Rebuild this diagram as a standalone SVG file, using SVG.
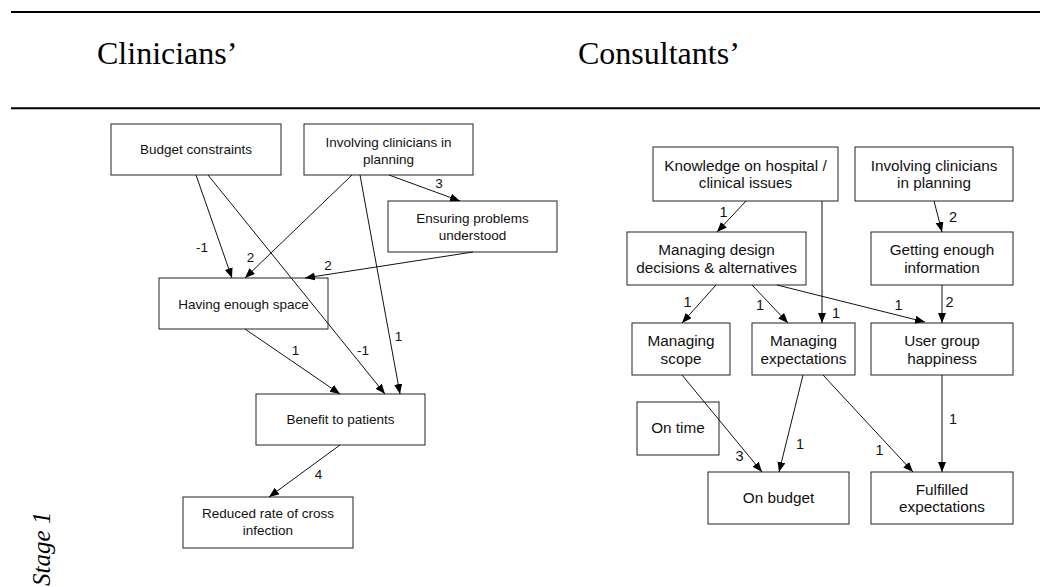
<svg xmlns="http://www.w3.org/2000/svg" width="1040" height="587" viewBox="0 0 1040 587">
<style>
.title{font-family:"Liberation Serif","Times New Roman",serif;font-size:32px;fill:#000}
.stage{font-family:"Liberation Serif","DejaVu Serif","Times New Roman",serif;font-size:25px;font-style:italic;fill:#000}
.box{fill:none;stroke:#222;stroke-width:1}
.tl{font-family:"Liberation Sans",Arial,sans-serif;font-size:13.5px;fill:#111;text-anchor:middle}
.tr{font-family:"Liberation Sans",Arial,sans-serif;font-size:15.3px;fill:#111;text-anchor:middle}
.ll{font-family:"Liberation Sans",Arial,sans-serif;font-size:13.5px;fill:#111;text-anchor:middle}
.lr{font-family:"Liberation Sans",Arial,sans-serif;font-size:14.5px;fill:#111;text-anchor:middle}
.edge{stroke:#111;stroke-width:1;fill:none;marker-end:url(#ah)}
.rule{stroke:#000;stroke-width:2}
</style>
<defs>
<marker id="ah" markerUnits="userSpaceOnUse" markerWidth="11" markerHeight="9" refX="10" refY="4" orient="auto">
<path d="M0,0 L10,4 L0,8 z" fill="#000"/>
</marker>
</defs>
<rect width="1040" height="587" fill="#fff"/>
<line class="rule" x1="11" y1="12" x2="1040" y2="12"/>
<line class="rule" x1="11" y1="108.3" x2="1040" y2="108.3"/>
<text class="title" x="97" y="64">Clinicians’</text>
<text class="title" x="578" y="64">Consultants’</text>
<text class="stage" transform="translate(50,586) rotate(-90)">Stage 1</text>

<g id="budget-constraints"><rect class="box" x="111" y="124" width="170" height="51"/><text class="tl" x="196" y="154.3">Budget constraints</text></g>
<g id="involving-left"><rect class="box" x="304" y="124" width="169" height="51"/><text class="tl" x="388.5" y="146.5">Involving clinicians in</text><text class="tl" x="388.5" y="164">planning</text></g>
<g id="ensuring"><rect class="box" x="388" y="201" width="169" height="51"/><text class="tl" x="472.5" y="222.8">Ensuring problems</text><text class="tl" x="472.5" y="240">understood</text></g>
<g id="having-space"><rect class="box" x="159" y="278" width="169" height="51"/><text class="tl" x="243.5" y="308.5">Having enough space</text></g>
<g id="benefit"><rect class="box" x="256" y="394" width="169" height="51"/><text class="tl" x="340.5" y="424">Benefit to patients</text></g>
<g id="reduced"><rect class="box" x="183" y="497" width="170" height="51"/><text class="tl" x="268" y="517.8">Reduced rate of cross</text><text class="tl" x="268" y="535">infection</text></g>

<g id="knowledge"><rect class="box" x="653" y="147" width="185" height="54"/><text class="tr" x="745.5" y="170.5">Knowledge on hospital /</text><text class="tr" x="745.5" y="188.2">clinical issues</text></g>
<g id="involving-right"><rect class="box" x="855" y="147" width="158" height="54"/><text class="tr" x="934" y="170.5">Involving clinicians</text><text class="tr" x="934" y="188.2">in planning</text></g>
<g id="managing-design"><rect class="box" x="627" y="232" width="179" height="53"/><text class="tr" x="716.5" y="255">Managing design</text><text class="tr" x="716.5" y="272.7">decisions &amp; alternatives</text></g>
<g id="getting-info"><rect class="box" x="871" y="232" width="142" height="53"/><text class="tr" x="942" y="255">Getting enough</text><text class="tr" x="942" y="272.7">information</text></g>
<g id="managing-scope"><rect class="box" x="632" y="323" width="98" height="52"/><text class="tr" x="681" y="346.2">Managing</text><text class="tr" x="681" y="363.9">scope</text></g>
<g id="managing-expectations"><rect class="box" x="752" y="323" width="103" height="52"/><text class="tr" x="803.5" y="346.2">Managing</text><text class="tr" x="803.5" y="363.9">expectations</text></g>
<g id="user-group"><rect class="box" x="871" y="323" width="142" height="52"/><text class="tr" x="942" y="346.2">User group</text><text class="tr" x="942" y="363.9">happiness</text></g>
<g id="on-time"><rect class="box" x="637" y="402" width="82" height="53"/><text class="tr" x="678" y="433.2">On time</text></g>
<g id="on-budget"><rect class="box" x="708" y="472" width="141" height="52"/><text class="tr" x="778.5" y="503.2">On budget</text></g>
<g id="fulfilled"><rect class="box" x="871" y="472" width="142" height="52"/><text class="tr" x="942" y="494.5">Fulfilled</text><text class="tr" x="942" y="512">expectations</text></g>

<g id="connectors">
<line class="edge" x1="196" y1="175" x2="232" y2="278"/>
<line class="edge" x1="208" y1="175" x2="385" y2="394"/>
<line class="edge" x1="352" y1="175" x2="245" y2="278"/>
<line class="edge" x1="360" y1="175" x2="400" y2="394"/>
<line class="edge" x1="389" y1="175" x2="460" y2="201"/>
<line class="edge" x1="473" y1="252" x2="305" y2="278"/>
<line class="edge" x1="245" y1="329" x2="340" y2="394"/>
<line class="edge" x1="340" y1="445" x2="269" y2="497"/>
<text class="ll" x="202" y="252">-1</text>
<text class="ll" x="250.5" y="262">2</text>
<text class="ll" x="328" y="270">2</text>
<text class="ll" x="439" y="188">3</text>
<text class="ll" x="295.5" y="355">1</text>
<text class="ll" x="363" y="355">-1</text>
<text class="ll" x="398.5" y="341">1</text>
<text class="ll" x="318.5" y="479">4</text>

<line class="edge" x1="746" y1="201" x2="717" y2="232"/>
<line class="edge" x1="822" y1="201" x2="822" y2="323"/>
<line class="edge" x1="934" y1="201" x2="942" y2="232"/>
<line class="edge" x1="716" y1="285" x2="682" y2="323"/>
<line class="edge" x1="752" y1="285" x2="788" y2="323"/>
<line class="edge" x1="777" y1="285" x2="925" y2="322"/>
<line class="edge" x1="942" y1="285" x2="942" y2="323"/>
<line class="edge" x1="682" y1="375" x2="762" y2="472"/>
<line class="edge" x1="803" y1="375" x2="779" y2="472"/>
<line class="edge" x1="823" y1="375" x2="913" y2="472"/>
<line class="edge" x1="942" y1="375" x2="942" y2="472"/>
<text class="lr" x="723.5" y="217">1</text>
<text class="lr" x="836" y="318">1</text>
<text class="lr" x="953" y="222">2</text>
<text class="lr" x="687.5" y="307">1</text>
<text class="lr" x="760" y="310">1</text>
<text class="lr" x="898.5" y="310">1</text>
<text class="lr" x="949.5" y="307">2</text>
<text class="lr" x="739.5" y="461">3</text>
<text class="lr" x="800" y="448.5">1</text>
<text class="lr" x="879.5" y="455">1</text>
<text class="lr" x="953" y="423.5">1</text>
</g>
</svg>
